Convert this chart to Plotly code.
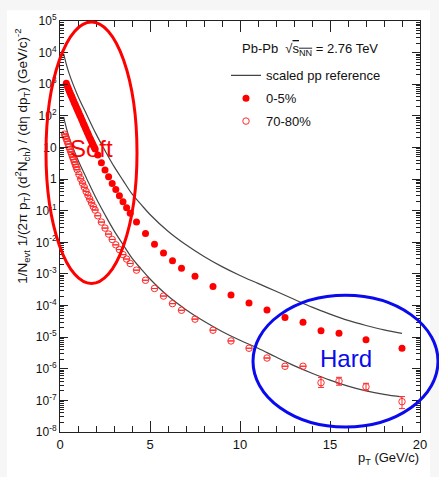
import plotly.graph_objects as go

# ---------------- data (yields stored as log10 values) ----------------
pt_central = [0.35, 0.40, 0.45, 0.50, 0.55, 0.60, 0.65, 0.70, 0.75, 0.80, 0.85, 0.90, 0.95, 1.00,
              1.05, 1.10, 1.15, 1.20, 1.25, 1.30, 1.35, 1.40, 1.45, 1.50, 1.55, 1.60, 1.65, 1.70,
              1.75, 1.80, 1.85, 1.90, 1.95,
              2.1, 2.3, 2.5, 2.7, 2.9, 3.1, 3.3, 3.5, 3.7, 3.9,
              4.25, 4.75, 5.25, 5.75, 6.25, 6.75, 7.5, 8.5, 9.5, 10.5, 11.5, 12.5, 13.5,
              14.5, 15.5, 17.0, 19.0]
log_central = [3.03, 2.95, 2.88, 2.81, 2.74, 2.67, 2.61, 2.54, 2.48, 2.41, 2.35, 2.28, 2.22, 2.15,
               2.09, 2.02, 1.96, 1.89, 1.83, 1.76, 1.70, 1.63, 1.57, 1.50, 1.44, 1.37, 1.31, 1.25,
               1.19, 1.13, 1.07, 1.01, 0.95,
               0.76, 0.52, 0.29, 0.07, -0.14, -0.33, -0.53, -0.72, -0.91, -1.08,
               -1.355, -1.72, -2.06, -2.34, -2.58, -2.82, -3.07, -3.40, -3.67, -3.92, -4.145, -4.38, -4.53,
               -4.80, -4.88, -5.08, -5.35]

pt_periph = [0.25, 0.30, 0.35, 0.40, 0.45, 0.50, 0.55, 0.60, 0.65, 0.70, 0.75, 0.80, 0.85, 0.90, 0.95,
             1.05, 1.15, 1.25, 1.35, 1.45, 1.55, 1.65, 1.75, 1.85, 1.95,
             2.1, 2.3, 2.5, 2.7, 2.9, 3.1, 3.3, 3.5, 3.7, 3.9,
             4.25, 4.75, 5.25, 5.75, 6.25, 6.75, 7.5, 8.5, 9.5, 10.5, 11.5, 12.5, 13.5,
             14.5, 15.5, 17.0, 19.0]
log_periph = [1.42, 1.35, 1.27, 1.19, 1.11, 1.02, 0.94, 0.86, 0.78, 0.70, 0.62, 0.54, 0.46, 0.38, 0.30,
              0.15, 0.01, -0.13, -0.26, -0.39, -0.51, -0.63, -0.75, -0.87, -0.98,
              -1.16, -1.36, -1.55, -1.74, -1.91, -2.08, -2.23, -2.39, -2.53, -2.67,
              -2.88, -3.20, -3.46, -3.70, -3.94, -4.15, -4.43, -4.78, -5.12, -5.35, -5.66, -5.92, -5.92,
              -6.44, -6.39, -6.57, -7.04]
# error-bar bounds (log10) for the last four peripheral points, None elsewhere
log_periph_hi = [None] * 48 + [-6.28, -6.27, -6.46, -6.88]
log_periph_lo = [None] * 48 + [-6.59, -6.52, -6.68, -7.26]

pt_ref = [0.2, 0.5, 1, 1.5, 2, 2.5, 3, 3.5, 4, 4.5, 5, 6, 7, 8, 9, 10, 11, 12, 13, 14, 15, 16, 17, 18, 19]
log_ref_central = [3.97, 3.35, 2.62, 2.02, 1.43, 0.90, 0.40, -0.04, -0.47, -0.80, -1.12, -1.65, -2.08,
                   -2.45, -2.77, -3.05, -3.30, -3.55, -3.80, -4.05, -4.27, -4.47, -4.63, -4.77, -4.88]
log_ref_periph = [1.97, 1.33, 0.60, -0.01, -0.60, -1.13, -1.63, -2.07, -2.50, -2.84, -3.16, -3.70, -4.13,
                  -4.50, -4.82, -5.10, -5.35, -5.63, -5.90, -6.14, -6.36, -6.55, -6.70, -6.81, -6.89]

y_tick_exp = [5, 4, 3, 2, 1, 0, -1, -2, -3, -4, -5, -6, -7, -8]
y_tick_text = ["10<sup>5</sup>", "10<sup>4</sup>", "10<sup>3</sup>", "10<sup>2</sup>", "10", "1",
               "10<sup>-1</sup>", "10<sup>-2</sup>", "10<sup>-3</sup>", "10<sup>-4</sup>",
               "10<sup>-5</sup>", "10<sup>-6</sup>", "10<sup>-7</sup>", "10<sup>-8</sup>"]

# ---------------- conversions ----------------
def lin(a):
    return [None if v is None else 10.0 ** v for v in a]

y_c = lin(log_central)
y_p = lin(log_periph)
err_plus = [None if h is None else 10.0 ** h - 10.0 ** v for h, v in zip(log_periph_hi, log_periph)]
err_minus = [None if l is None else 10.0 ** v - 10.0 ** l for l, v in zip(log_periph_lo, log_periph)]

FONT = "Liberation Sans, Arial, Helvetica, sans-serif"
W, H = 439, 477
ML, MR, MT, MB = 60, 19, 14, 45
PW, PH = W - ML - MR, H - MT - MB

def px(x):
    return (x - ML) / PW

def py(y):
    return (H - MB - y) / PH

fig = go.Figure()

fig.add_trace(go.Scatter(x=pt_ref, y=lin(log_ref_central), mode="lines", line=dict(color="#444444", width=1.2, shape="spline"),
                         name="scaled pp reference", legendgroup="a"))
fig.add_trace(go.Scatter(x=pt_ref, y=lin(log_ref_periph), mode="lines", line=dict(color="#444444", width=1.2, shape="spline"),
                         showlegend=False, legendgroup="a"))
fig.add_trace(go.Scatter(x=pt_central, y=y_c, mode="markers", name="0-5%", legendgroup="b",
                         marker=dict(symbol="circle", size=7, color="#ff0000", line=dict(width=0))))
fig.add_trace(go.Scatter(x=pt_periph, y=y_p, mode="markers", name="70-80%", legendgroup="c",
                         marker=dict(symbol="circle-open", size=6.5, color="#ff2a2a", line=dict(width=1)),
                         error_y=dict(type="data", symmetric=False, array=err_plus, arrayminus=err_minus,
                                      color="#ff2a2a", thickness=1, width=3)))

shapes = [
    # white slide background
    dict(type="rect", xref="paper", yref="paper", x0=px(7), x1=px(430), y0=py(480), y1=py(3),
         fillcolor="white", line=dict(width=0), layer="below"),
    # soft ellipse
    dict(type="circle", xref="paper", yref="paper", x0=px(46), x1=px(137), y0=py(281), y1=py(15),
         line=dict(color="#ff0000", width=3)),
    # hard ellipse
    dict(type="circle", xref="paper", yref="paper", x0=px(253), x1=px(438), y0=py(427), y1=py(293),
         line=dict(color="#0a0aee", width=3)),
]

annotations = [
    dict(text="Soft", x=px(91), y=py(144), xref="paper", yref="paper", showarrow=False,
         font=dict(family=FONT, size=24, color="#ff0000"), xanchor="center", yanchor="middle"),
    dict(text="Hard", x=px(346), y=py(357), xref="paper", yref="paper", showarrow=False,
         font=dict(family=FONT, size=24, color="#0a0aee"), xanchor="center", yanchor="middle"),
    dict(text="Pb-Pb  \u221A<span style='text-decoration:overline'>s<sub>NN</sub></span> = 2.76 TeV",
         x=px(240), y=py(43), xref="paper", yref="paper", showarrow=False, xanchor="left", yanchor="middle",
         font=dict(family=FONT, size=13, color="#111111")),
    dict(text="p<sub>T</sub> (GeV/c)", x=px(421), y=py(459), xref="paper", yref="paper", showarrow=False,
         xanchor="right", yanchor="middle", font=dict(family=FONT, size=13, color="#111111")),
    dict(text="1/N<sub>evt</sub> 1/(2\u03C0 p<sub>T</sub>) (d<sup>2</sup>N<sub>ch</sub>) / (d\u03B7 dp<sub>T</sub>) (GeV/c)<sup>-2</sup>",
         x=px(22), y=py(152), xref="paper", yref="paper", showarrow=False, textangle=-90,
         xanchor="center", yanchor="middle", font=dict(family=FONT, size=13.5, color="#111111")),
]

fig.update_layout(
    width=W, height=H,
    margin=dict(l=ML, r=MR, t=MT, b=MB, pad=0),
    paper_bgcolor="#f6f6f6", plot_bgcolor="rgba(0,0,0,0)",
    font=dict(family=FONT, size=12, color="#111111"),
    shapes=shapes, annotations=annotations,
    legend=dict(x=px(226), y=py(54), xanchor="left", yanchor="top", bgcolor="rgba(0,0,0,0)",
                font=dict(family=FONT, size=13, color="#111111"), tracegroupgap=3),
    xaxis=dict(range=[0, 20], showgrid=False, zeroline=False, showline=True, linecolor="#222222", linewidth=1,
               mirror="ticks", ticks="inside", ticklen=11, tickcolor="#222222", tickvals=[0, 5, 10, 15, 20],
               tickfont=dict(family=FONT, size=13, color="#111111"),
               minor=dict(ticks="inside", ticklen=6, dtick=1, tickcolor="#222222", showgrid=False)),
    yaxis=dict(type="log", range=[-8, 5], showgrid=False, zeroline=False, showline=True, linecolor="#222222",
               linewidth=1, mirror="ticks", ticks="inside", ticklen=8, tickcolor="#222222",
               tickvals=[10.0 ** e for e in y_tick_exp], ticktext=y_tick_text,
               tickfont=dict(family=FONT, size=12, color="#111111"),
               minor=dict(ticks="inside", ticklen=4, dtick="D1", tickcolor="#222222", showgrid=False)),
)

fig.write_html("out.html", config={"displayModeBar": False},
               post_script="document.body.style.margin='0px'; document.body.style.background='#f6f6f6';")
